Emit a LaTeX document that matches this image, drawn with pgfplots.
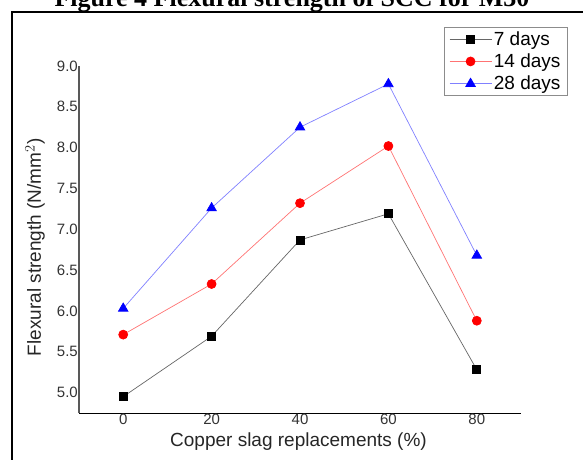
\documentclass[border=0pt]{standalone}
\usepackage{fontspec}
\setmainfont{Liberation Sans}
\newfontfamily\titlefont{Liberation Serif}
\usepackage{pgfplots}
\pgfplotsset{compat=1.18}
\begin{document}
\begin{tikzpicture}[x=1pt,y=1pt]
\useasboundingbox (0,0) rectangle (583,459);
% title of the page, mostly cut off by the top edge
\node[font=\titlefont\bfseries\fontsize{26}{28}\selectfont, anchor=base, inner sep=0pt]
  at (292,452) {Figure 4 Flexural strength of SCC for M30};
% frame around the figure
\draw[line width=1.6pt] (12,-2) -- (12,447) -- (585,447);
\begin{axis}[
  at={(79pt,46pt)}, anchor=south west,
  scale only axis, width=442pt, height=347pt,
  xmin=-10, xmax=90, ymin=4.75, ymax=9.0,
  axis x line*=bottom, axis y line*=left,
  x axis line style={-, black, line width=1pt},
  y axis line style={-, black!65, line width=1.6pt},
  xtick={0,20,40,60,80},
  ytick={5.0,5.5,...,9.0},
  major tick length=0pt,
  /pgf/number format/assume math mode=true,
  yticklabel style={/pgf/number format/fixed, /pgf/number format/fixed zerofill,
    /pgf/number format/precision=1, inner sep=1pt},
  ticklabel style={font=\fontsize{15}{17}\selectfont, text=black!80},
  xticklabel style={inner sep=1pt},
  xlabel={Copper slag replacements (\%)},
  ylabel={Flexural strength (N/mm$^{2}$)},
  label style={font=\fontsize{19}{21}\selectfont, text=black!85},
  xlabel style={at={(axis description cs:0.4966,-0.0836)}, anchor=center},
  ylabel style={at={(axis description cs:-0.0995,0.477)}, anchor=center},
  legend style={at={(axis description cs:1.106,1.112)}, anchor=north east,
    draw=black!45, line width=0.8pt, font=\fontsize{19}{20}\selectfont,
    inner xsep=5pt, inner ysep=2pt, row sep=3pt,
    cells={anchor=west}},
  legend image code/.code={%
    \draw[mark repeat=2, mark phase=2] plot coordinates {(0pt,0pt) (21pt,0pt) (42pt,0pt)};},
  clip=false,
]
\addplot[black!60, line width=0.7pt, mark=square*, mark size=4pt,
  mark options={fill=black, draw=black}] coordinates {
  (0,4.95) (20,5.69) (40,6.87) (60,7.19) (80,5.28)
};
\addlegendentry{7 days}
\addplot[red!55, line width=0.7pt, mark=*, mark size=4.5pt,
  mark options={fill=red, draw=red}] coordinates {
  (0,5.71) (20,6.33) (40,7.32) (60,8.02) (80,5.88)
};
\addlegendentry{14 days}
\addplot[blue!50, line width=0.7pt, mark=triangle*, mark size=5.5pt,
  mark options={fill=blue, draw=blue}] coordinates {
  (0,6.03) (20,7.26) (40,8.25) (60,8.78) (80,6.68)
};
\addlegendentry{28 days}
\end{axis}
\end{tikzpicture}
\end{document}
